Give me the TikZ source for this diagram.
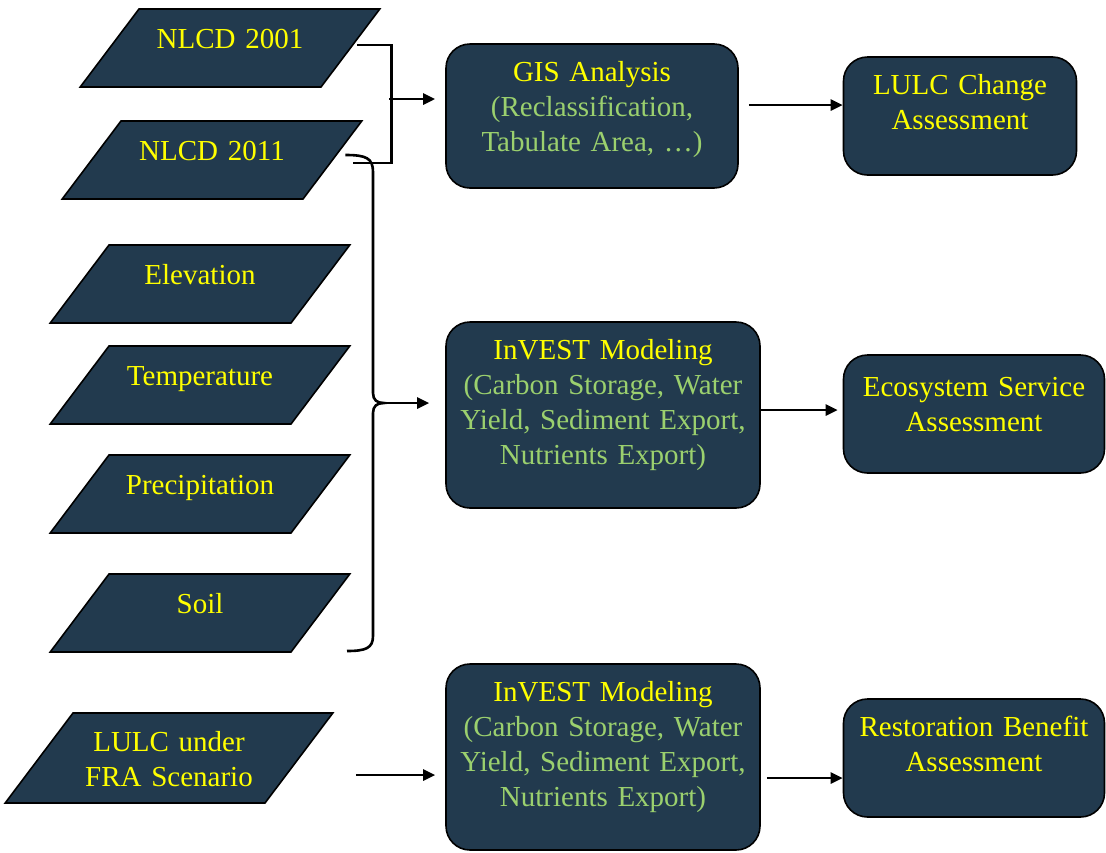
\documentclass[tikz,border=0pt]{standalone}
\usepackage{fontspec}
\setmainfont{Liberation Serif}
\usetikzlibrary{shapes.geometric,arrows.meta,calc}

\definecolor{boxfill}{RGB}{34,58,78}
\definecolor{titleyel}{RGB}{255,255,0}
\definecolor{subgrn}{RGB}{155,208,110}

\def \slant {53}

\begin{document}
\begin{tikzpicture}[x=1pt,y=-1pt,
    datain/.style={trapezium, trapezium left angle=\slant, trapezium right angle=180-\slant,
      draw=black, line width=1.6pt, fill=boxfill, text=titleyel, inner sep=0pt,
      text width=182pt, align=center, text height=39pt, text depth=39pt,
      font=\fontsize{29}{35}\selectfont},
    procbox/.style={rectangle, rounded corners=24pt, draw=black, line width=1.6pt,
      fill=boxfill, text=titleyel, inner sep=0pt, align=center, text height=37pt,
      font=\fontsize{29}{35}\selectfont},
    brk/.style={line width=2.6pt},
    arr/.style={line width=2.6pt, -{Triangle[length=12pt,width=11pt]}}]
  \useasboundingbox (0,0) rectangle (1106,852);
  %inputs
  \node[datain] (n01) at (230,48) {NLCD 2001};
  \node[datain] (n11) at (212,160) {NLCD 2011};
  \node[datain] (elev) at (200,284) {Elevation};
  \node[datain] (temp) at (200,385) {Temperature};
  \node[datain] (prec) at (200,494) {Precipitation};
  \node[datain] (soil) at (200,613) {Soil};
  \node[datain, text width=192pt, text height=38.5pt, text depth=51.5pt] (lulc) at (169,758) {LULC under\\FRA Scenario};
  %models
  \node[procbox, text width=292pt, text depth=107pt] (gis) at (592,116) {GIS Analysis\\\color{subgrn}(Reclassification,\\Tabulate Area, …)};
  \node[procbox, text width=314pt, text depth=149pt] (inv1) at (603,415) {InVEST Modeling\\\color{subgrn}(Carbon Storage, Water\\Yield, Sediment Export,\\Nutrients Export)};
  \node[procbox, text width=314pt, text depth=149pt] (inv2) at (603,757) {InVEST Modeling\\\color{subgrn}(Carbon Storage, Water\\Yield, Sediment Export,\\Nutrients Export)};
  %assessments
  \node[procbox, text width=233pt, text depth=81pt] (lcc) at (960,116) {LULC Change\\Assessment};
  \node[procbox, text width=261pt, text height=41pt, text depth=77pt] (eco) at (974,414) {Ecosystem Service\\Assessment};
  \node[procbox, text width=261pt, text depth=81pt] (res) at (974,758) {Restoration Benefit\\Assessment};
  %bracket NLCD
  \draw[brk] ($(n01.east)+(6,-3)$) -- ++(34,0) |- ($(n11.east)+(20,3)$);
  \coordinate (brk1) at (389,99);
  \draw[arr] (brk1) -- ($(brk1 -| gis.west)+(-10,0)$);
  %brace
  \coordinate (bT) at ($(n11.east)+(12,-5)$);
  \coordinate (bB) at (347,651);
  \coordinate (bC) at (384,403);
  \draw[brk] (bT) .. controls (366,155) and (373,158) .. (373,172) -- (373,393)
    .. controls (373,400) and (377,403) .. (bC) .. controls (377,403) and (373,406) .. (373,413)
    -- (373,636) .. controls (373,648) and (366,651) .. (bB);
  \draw[arr] (bC) -- ($(bC -| inv1.west)+(-16,0)$);
  %arrows
  \draw[arr] ($(lulc.east)+(56,17)$) -- ($(lulc.east -| inv2.west)+(-10,17)$);
  \draw[arr] ($(gis.east)+(10,-11)$) -- ($(gis.east -| lcc.west)+(0,-11)$);
  \draw[arr] ($(inv1.east)+(0,-5)$) -- ($(inv1.east -| eco.west)+(-5,-5)$);
  \draw[arr] ($(inv2.east)+(6,21)$) -- ($(inv2.east -| res.west)+(0,21)$);
\end{tikzpicture}
\end{document}
